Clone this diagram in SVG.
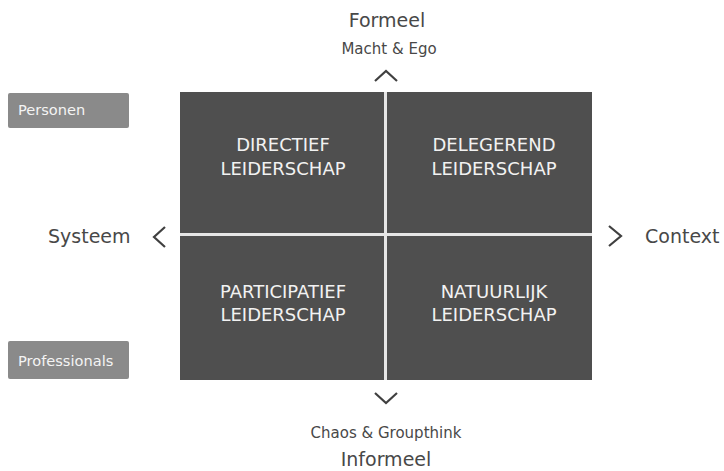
<svg xmlns="http://www.w3.org/2000/svg" width="724" height="471" viewBox="0 0 724 471">
<style>
.lbl{font-family:"DejaVu Sans","Noto Sans",sans-serif;fill:#484848}
.big{font-size:19px}
.small{font-size:15px}
.cell{fill:#4f4f4f}
.ct{font-family:"DejaVu Sans","Noto Sans",sans-serif;font-size:18px;fill:#f2f2f2;text-anchor:middle}
.tag{fill:#8a8a8a}
.tt{font-family:"DejaVu Sans","Noto Sans",sans-serif;font-size:14.6px;fill:#f4f4f4}
.chev{fill:none;stroke:#404040;stroke-width:2.2}
</style>
<rect width="724" height="471" fill="#ffffff"/>
<g id="grid">
<rect x="180" y="92" width="412" height="288" rx="2" fill="#e6e6e6"/>
</g>
<g id="directief">
<rect class="cell" x="180" y="92" width="204" height="141"/>
<text class="ct" x="283" y="151">DIRECTIEF</text>
<text class="ct" x="283" y="175">LEIDERSCHAP</text>
</g>
<g id="delegerend">
<rect class="cell" x="387" y="92" width="205" height="141"/>
<text class="ct" x="494" y="151">DELEGEREND</text>
<text class="ct" x="494" y="175">LEIDERSCHAP</text>
</g>
<g id="participatief">
<rect class="cell" x="180" y="236" width="204" height="144"/>
<text class="ct" x="283" y="298">PARTICIPATIEF</text>
<text class="ct" x="283" y="321">LEIDERSCHAP</text>
</g>
<g id="natuurlijk">
<rect class="cell" x="387" y="236" width="205" height="144"/>
<text class="ct" x="494" y="298">NATUURLIJK</text>
<text class="ct" x="494" y="321">LEIDERSCHAP</text>
</g>
<g id="personen">
<rect class="tag" x="8" y="93" width="121" height="35" rx="2"/>
<text class="tt" x="18" y="115">Personen</text>
</g>
<g id="professionals">
<rect class="tag" x="8" y="341" width="121" height="38" rx="2"/>
<text class="tt" x="18" y="366">Professionals</text>
</g>
<g id="formeel">
<text class="lbl big" x="387" y="27" text-anchor="middle">Formeel</text>
<text class="lbl small" x="389" y="54" text-anchor="middle">Macht &amp; Ego</text>
</g>
<g id="informeel">
<text class="lbl small" x="386" y="438" text-anchor="middle">Chaos &amp; Groupthink</text>
<text class="lbl big" x="386" y="466" text-anchor="middle">Informeel</text>
</g>
<g id="systeem">
<text class="lbl big" x="48" y="243">Systeem</text>
</g>
<g id="context">
<text class="lbl big" x="645" y="243">Context</text>
</g>
<g id="connectors">
<polyline class="chev" points="375,81 386,71 397,81"/>
<polyline class="chev" points="375,393 386,403 397,393"/>
<polyline class="chev" points="165,227 154,237 165,247"/>
<polyline class="chev" points="609,226 621,236 609,246"/>
</g>
</svg>
